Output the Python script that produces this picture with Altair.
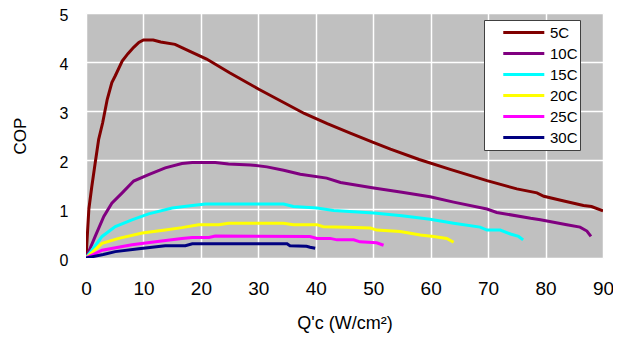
import altair as alt
import pandas as pd

series_names = ["5C", "10C", "15C", "20C", "25C", "30C"]
series_colors = ["#800000", "#800080", "#00FFFF", "#FFFF00", "#FF00FF", "#000080"]

x5 = [0, 0.5, 1.0, 1.6, 2.2, 2.9, 3.7, 4.5, 5.1, 6.3, 7.3, 8.3, 9.2, 10.0, 11.7, 13.0, 15.5, 18.0, 21.0,
      25.0, 30.0, 34.0, 38.0, 42.0, 46.0, 50.0, 53.0, 58.0, 63.4, 69.8, 75.0, 78.5, 79.7, 83.0, 86.6, 88.0, 90.0]
y5 = [0, 1.0, 1.45, 1.94, 2.42, 2.76, 3.24, 3.58, 3.72, 4.02, 4.17, 4.30, 4.40, 4.45, 4.45, 4.41, 4.36, 4.22, 4.06,
      3.78, 3.45, 3.20, 2.95, 2.74, 2.55, 2.36, 2.22, 2.01, 1.81, 1.58, 1.41, 1.33, 1.26, 1.17, 1.07, 1.05, 0.96]

x10 = [0, 1.6, 3.1, 4.5, 6.3, 8.3, 10.9, 13.8, 16.7, 18.5, 22.5, 24.8, 28.6, 31.5, 34.4, 37.3, 41.9, 44.3,
       50.1, 55.0, 59.9, 64.0, 69.8, 71.5, 77.4, 79.1, 83.7, 86.0, 87.2, 87.9]
y10 = [0, 0.44, 0.85, 1.12, 1.33, 1.57, 1.70, 1.84, 1.93, 1.95, 1.95, 1.92, 1.90, 1.86, 1.79, 1.71, 1.63, 1.54,
       1.43, 1.34, 1.25, 1.14, 1.00, 0.93, 0.81, 0.78, 0.68, 0.63, 0.55, 0.44]

x15 = [0, 2.8, 5.1, 8.0, 10.9, 15.0, 18.5, 20.8, 30.7, 34.4, 36.1, 40.2, 43.1, 50.1, 55.0, 59.9, 64.0,
       68.6, 69.8, 72.1, 73.9, 75.3, 76.1]
y15 = [0, 0.44, 0.64, 0.78, 0.90, 1.02, 1.07, 1.10, 1.10, 1.10, 1.05, 1.02, 0.97, 0.92, 0.86, 0.79, 0.71,
       0.63, 0.57, 0.57, 0.49, 0.44, 0.37]

x20 = [0, 2.8, 5.7, 9.8, 13.8, 16.7, 19.6, 23.1, 24.8, 34.4, 36.1, 40.2, 41.3, 45.4, 49.5, 50.6, 54.7,
       58.2, 60.5, 62.8, 64.0]
y20 = [0, 0.30, 0.40, 0.51, 0.57, 0.62, 0.68, 0.68, 0.71, 0.71, 0.68, 0.68, 0.64, 0.63, 0.61, 0.57, 0.54,
       0.47, 0.44, 0.40, 0.32]

x25 = [0, 2.8, 8.0, 12.1, 16.7, 18.5, 21.4, 22.5, 39.0, 40.2, 42.5, 43.7, 46.6, 47.7, 50.6, 51.8]
y25 = [0, 0.16, 0.27, 0.33, 0.40, 0.42, 0.42, 0.45, 0.44, 0.40, 0.40, 0.37, 0.37, 0.33, 0.31, 0.26]

x30 = [0, 3.0, 5.1, 9.2, 13.8, 17.3, 18.5, 35.0, 35.5, 38.4, 39.0, 39.9]
y30 = [0, 0.07, 0.13, 0.19, 0.25, 0.25, 0.29, 0.29, 0.25, 0.24, 0.22, 0.20]

x_ticks = [0, 10, 20, 30, 40, 50, 60, 70, 80, 90]
y_ticks = [0, 1, 2, 3, 4, 5]

all_x = [x5, x10, x15, x20, x25, x30]
all_y = [y5, y10, y15, y20, y25, y30]

rows = []
for name, xs, ys in zip(series_names, all_x, all_y):
    for i, (xv, yv) in enumerate(zip(xs, ys)):
        rows.append({"series": name, "q": xv, "cop": yv, "idx": i})
df = pd.DataFrame(rows)

font = "Liberation Sans"

chart = alt.Chart(df).mark_line(strokeWidth=3, clip=True).encode(
    x=alt.X("q:Q",
            scale=alt.Scale(domain=[0, 90], nice=False),
            axis=alt.Axis(values=x_ticks, title="Q'c (W/cm²)", labelPadding=21, titlePadding=16,
                          labelFlush=False, format="d")),
    y=alt.Y("cop:Q",
            scale=alt.Scale(domain=[0, 5], nice=False),
            axis=alt.Axis(values=y_ticks, title="COP", labelPadding=18, titlePadding=30,
                          labelOffset=2, labelFlush=False, format="d")),
    color=alt.Color("series:N",
                    scale=alt.Scale(domain=series_names, range=series_colors),
                    title=None,
                    legend=alt.Legend(orient="none", legendX=398, legendY=7,
                                      fillColor="white", strokeColor="#404040",
                                      padding=2, symbolType="M-0.45,0 L1,0", symbolSize=3204,
                                      symbolStrokeWidth=3, labelFontSize=15, labelFont=font,
                                      labelColor="black", labelOffset=4, clipHeight=21,
                                      rowPadding=0,
                                      labelExpr="datum.label + '\u00a0\u00a0\u00a0'")),
    order="idx:Q",
).properties(
    width=517,
    height=245,
    autosize=alt.AutoSizeParams(type="none"),
    padding={"left": 78, "top": 5, "right": 10, "bottom": 78},
).configure_view(
    fill="#C0C0C0", stroke="transparent"
).configure_axis(
    labelFont=font, labelColor="black",
    titleFont=font, titleFontWeight="normal", titleColor="black",
    gridColor="white", gridWidth=1.5, gridOpacity=1,
    domain=False, ticks=False, tickSize=0,
).configure_axisX(
    labelFontSize=19, titleFontSize=18,
).configure_axisY(
    labelFontSize=16, titleFontSize=17,
)

chart.save("out.html", embed_options={"renderer": "svg", "actions": False})
